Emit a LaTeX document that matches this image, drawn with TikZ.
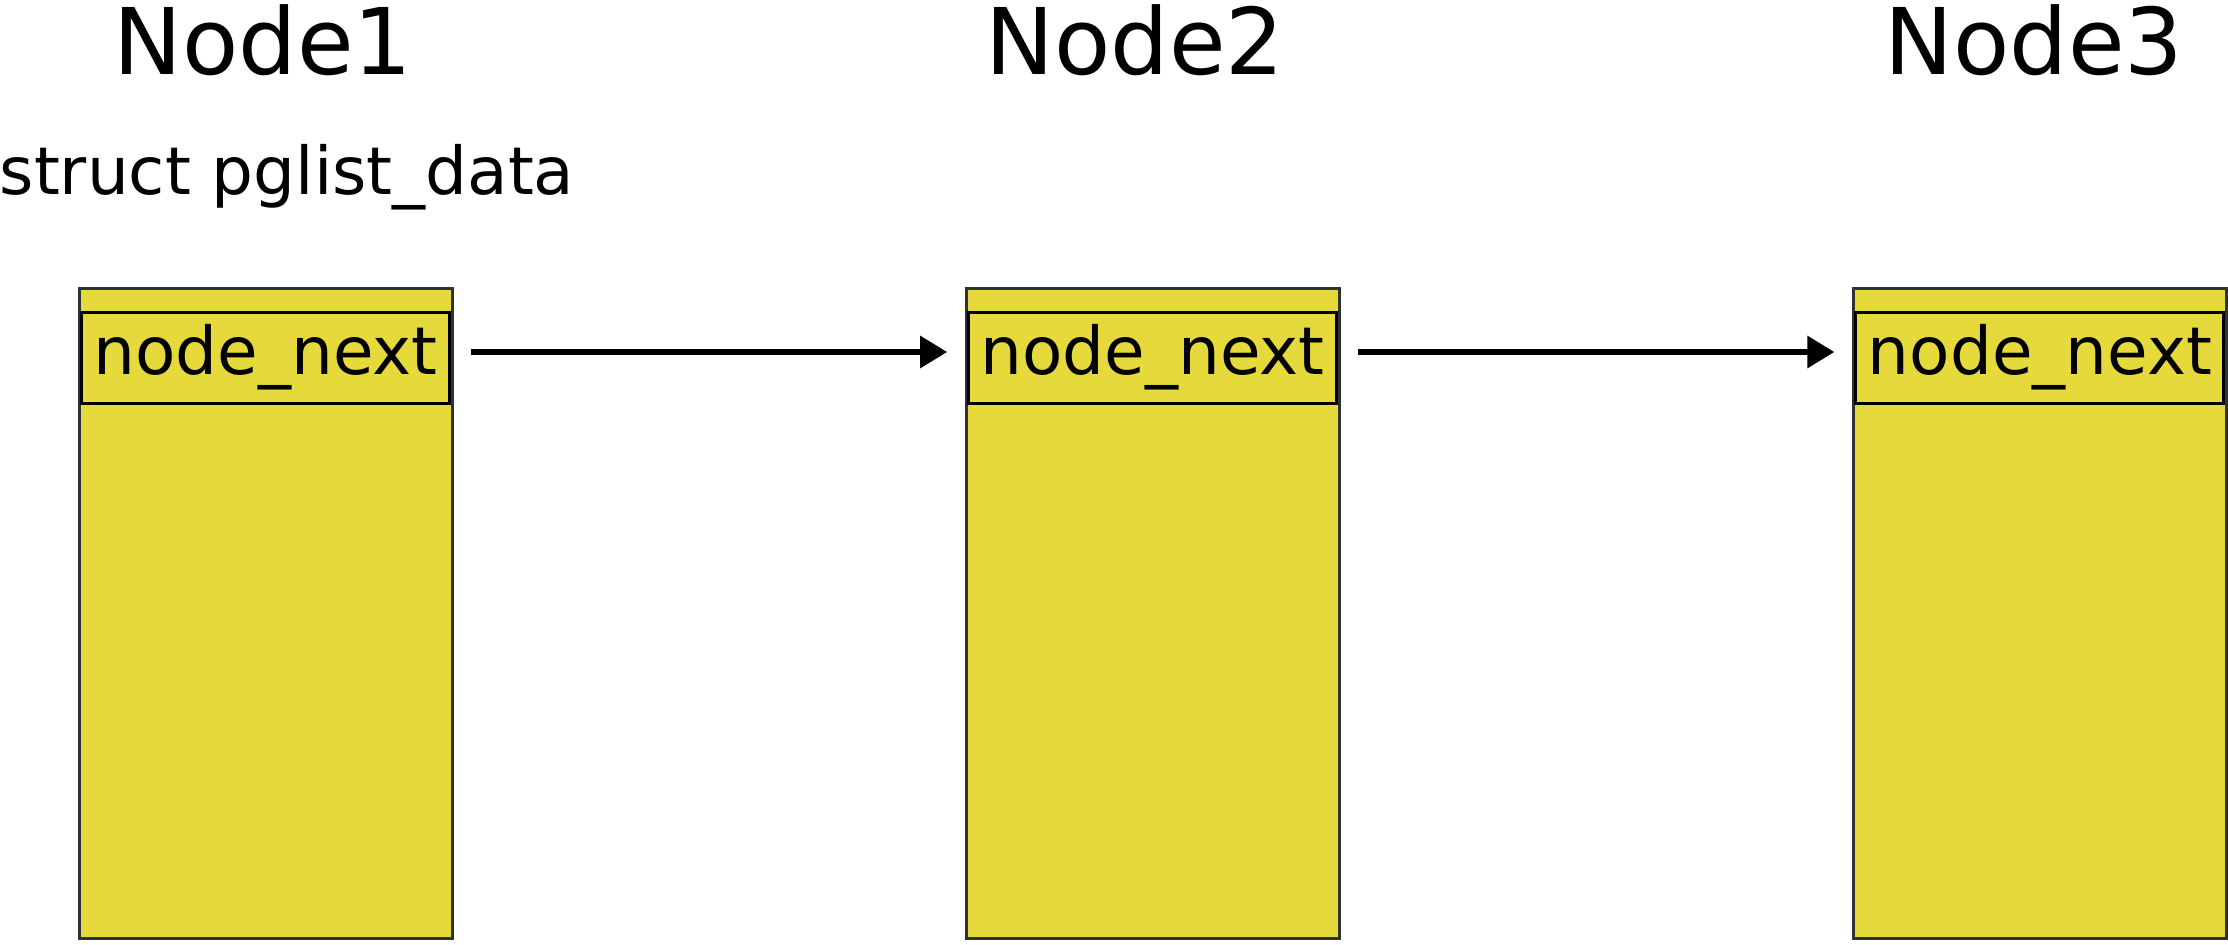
\documentclass[tikz,border=0pt]{standalone}
\usepackage{fontspec}
\setmainfont{DejaVu Sans}
\usepackage{tikz}
\usetikzlibrary{
  arrows.meta,
  positioning
}
\definecolor{structfill}{RGB}{229,217,59}
\definecolor{structdraw}{RGB}{46,49,56}

\begin{document}
\begin{tikzpicture}[
  x=0.5pt, y=-0.5pt,
  node distance=255.6pt,
  structbox/.style={rectangle, minimum width=186.5pt, minimum height=325pt,
    inner sep=0pt, draw=structdraw, fill=structfill, line width=1.5pt},
  fieldbox/.style={rectangle, minimum width=184pt, minimum height=45.5pt,
    inner sep=0pt, draw=black, fill=structfill, line width=1.5pt,
    font=\fontsize{33}{40}\selectfont},
  nodetitle/.style={anchor=base, font=\fontsize{46}{55}\selectfont},
  structname/.style={anchor=base, font=\fontsize{33}{40}\selectfont},
  arr/.style={-{Triangle[length=13.5pt, width=15.5pt]}, line width=3pt,
    shorten <=10pt, shorten >=10pt}
]
  \useasboundingbox (0,0) rectangle (2228,944);

  % the three pglist_data structs
  \node[structbox] (box1) at (265.5,613) {};
  \node[structbox, right=of box1] (box2) {};
  \node[structbox, right=of box2] (box3) {};
  \foreach \b in {1,2,3} {
    \node[fieldbox, below=12pt of box\b.north] (nx\b) {node\_next};
  }

  % titles
  \node[nodetitle] (title1) at (263,74) {Node1};
  \node[nodetitle] (title2) at (1135,74) {Node2};
  \node[nodetitle] (title3) at (2034,74) {Node3};
  \node[structname] (sname) at (287,194) {struct pglist\_data};

  % node_next links
  \foreach \f/\t in {nx1/nx2, nx2/nx3} {
    \draw[arr] ([yshift=2.75pt]\f.east) -- ([yshift=2.75pt]\t.west);
  }
\end{tikzpicture}
\end{document}
